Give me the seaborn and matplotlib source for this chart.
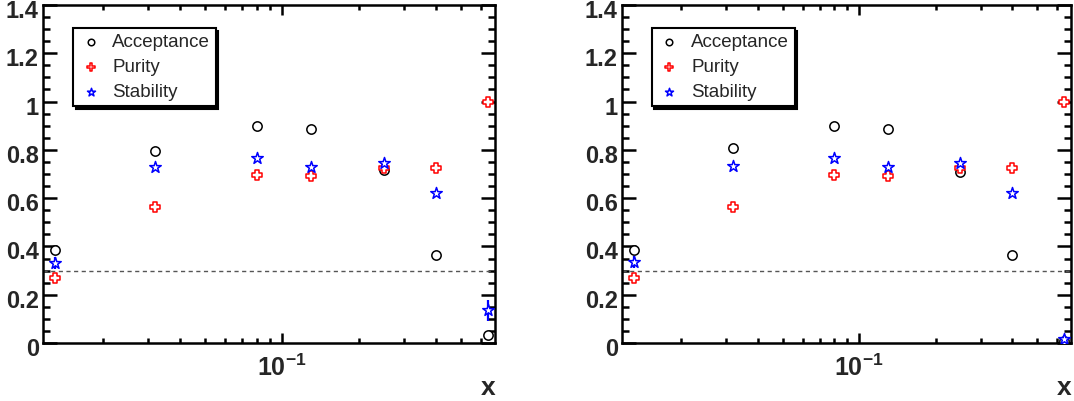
import numpy as np
import pandas as pd
import matplotlib
matplotlib.use('Agg')
import matplotlib.pyplot as plt
import matplotlib.transforms as mtransforms
from matplotlib.ticker import MultipleLocator, FixedLocator, FixedFormatter, NullFormatter
import seaborn as sns

# bin centres (log x)
x_vals = [0.013, 0.032, 0.08, 0.13, 0.25, 0.40, 0.64]

# left panel
acc_left = [0.384, 0.795, 0.900, 0.885, 0.715, 0.365, 0.032]
acc_left_err = [0.015, 0.005, 0.004, 0.004, 0.004, 0.005, 0.006]
pur_left = [0.271, 0.562, 0.694, 0.690, 0.723, 0.726, 1.0]
pur_left_err = [0.008, 0.005, 0.004, 0.004, 0.004, 0.005, 0.004]
stab_left = [0.333, 0.730, 0.767, 0.731, 0.746, 0.622, 0.135]
stab_left_err = [0.025, 0.006, 0.004, 0.004, 0.005, 0.006, 0.045]

# right panel
acc_right = [0.387, 0.808, 0.897, 0.885, 0.710, 0.363, 0.008]
acc_right_err = [0.015, 0.005, 0.004, 0.004, 0.004, 0.005, 0.004]
pur_right = [0.271, 0.562, 0.694, 0.690, 0.723, 0.726, 1.0]
pur_right_err = [0.008, 0.005, 0.004, 0.004, 0.004, 0.005, 0.004]
stab_right = [0.334, 0.734, 0.766, 0.731, 0.746, 0.623, 0.018]
stab_right_err = [0.025, 0.006, 0.004, 0.004, 0.005, 0.006, 0.015]

cut_line = 0.3

sns.set_style("ticks")
plt.rcParams['font.family'] = ['Liberation Sans', 'DejaVu Sans']
plt.rcParams['mathtext.fontset'] = 'custom'
plt.rcParams['mathtext.bf'] = 'Liberation Sans:bold'
plt.rcParams['mathtext.rm'] = 'Liberation Sans'

fig = plt.figure(figsize=(10.74, 4.01), dpi=100)
ax1 = fig.add_axes([43/1074, 1-343/401, 452/1074, 338/401])
ax2 = fig.add_axes([622/1074, 1-343/401, 449/1074, 338/401])

series_style = [
    ('Acceptance', 'black', 'o', 45),
    ('Purity', 'red', 'P', 55),
    ('Stability', 'blue', '*', 75),
]


def draw_panel(ax, acc, acc_err, pur, pur_err, stab, stab_err):
    values = [(acc, acc_err), (pur, pur_err), (stab, stab_err)]
    for (name, col, mk, sz), (v, e) in zip(series_style, values):
        ax.errorbar(x_vals, v, yerr=e, fmt='none', ecolor=col, elinewidth=1.6,
                    capsize=0, zorder=2)
        sns.scatterplot(x=x_vals, y=v, marker=mk, s=sz, facecolor='white',
                        edgecolor=col, linewidth=1.1, label=name, ax=ax,
                        zorder=3)
    ax.axhline(cut_line, color='#555555', lw=1.0, ls=(0, (3, 2.5)), zorder=1)

    ax.set_xscale('log')
    ax.set_xlim(0.0117, 0.68)
    ax.set_ylim(0, 1.4)

    ax.xaxis.set_major_locator(FixedLocator([0.1]))
    ax.xaxis.set_major_formatter(FixedFormatter([r'$\mathbf{10^{-1}}$']))
    minors = [0.02, 0.03, 0.04, 0.05, 0.06, 0.07, 0.08, 0.09,
              0.2, 0.3, 0.4, 0.5, 0.6]
    ax.xaxis.set_minor_locator(FixedLocator(minors))
    ax.xaxis.set_minor_formatter(NullFormatter())

    ax.yaxis.set_major_locator(MultipleLocator(0.2))
    ax.yaxis.set_minor_locator(MultipleLocator(0.05))
    ax.yaxis.set_major_formatter(plt.FuncFormatter(lambda v, p: f'{v:g}'))

    ax.tick_params(which='both', direction='in', top=True, right=True,
                   width=1.8, color='black')
    ax.tick_params(axis='y', which='major', length=10, pad=3, labelsize=17)
    ax.tick_params(axis='y', which='minor', length=5)
    ax.tick_params(axis='x', which='major', length=7, pad=8, labelsize=18)
    ax.tick_params(axis='x', which='minor', length=3.5)
    # ROOT-style labels sit a little below their ticks
    shift = mtransforms.ScaledTranslation(0, -4/100, fig.dpi_scale_trans)
    for lab in ax.get_yticklabels():
        lab.set_fontweight('bold')
        lab.set_transform(lab.get_transform() + shift)
    for sp in ax.spines.values():
        sp.set_linewidth(1.8)
        sp.set_color('black')

    ax.set_xlabel('x', loc='right', fontsize=19, fontweight='bold', labelpad=-3)
    ax.set_ylabel('')

    leg = ax.legend(loc='upper left', bbox_to_anchor=(0.066, 0.932),
                    borderaxespad=0, frameon=True, fancybox=False,
                    markerscale=0.7, fontsize=13.5, handletextpad=0.5,
                    borderpad=0.3, labelspacing=0.42, handlelength=1.3,
                    shadow={'color': 'black', 'alpha': 1, 'ox': 2, 'oy': -2})
    frame = leg.get_frame()
    frame.set_edgecolor('black')
    frame.set_linewidth(1.5)
    frame.set_alpha(1)


draw_panel(ax1, acc_left, acc_left_err, pur_left, pur_left_err,
           stab_left, stab_left_err)
draw_panel(ax2, acc_right, acc_right_err, pur_right, pur_right_err,
           stab_right, stab_right_err)

fig.savefig('out.png', dpi=100)
